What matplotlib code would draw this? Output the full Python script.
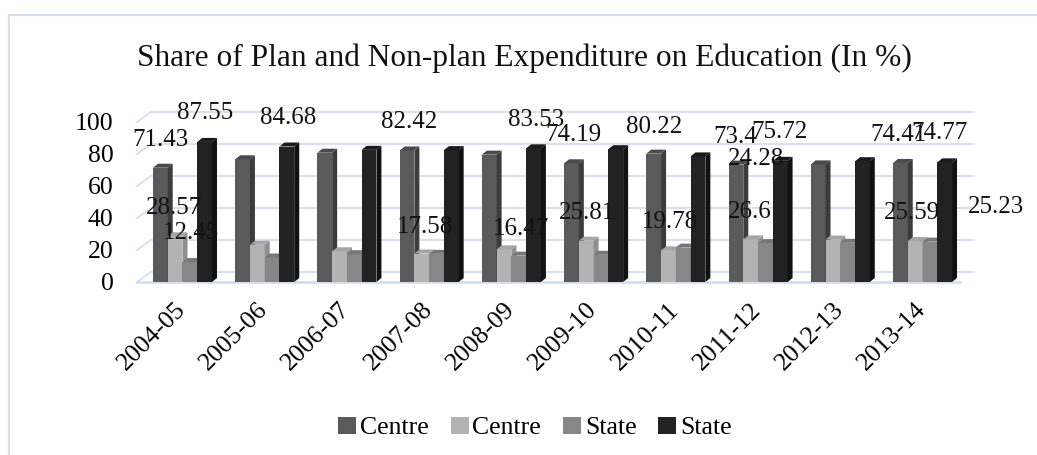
import numpy as np
import matplotlib.pyplot as plt
from matplotlib.collections import PolyCollection
from matplotlib.patches import Patch, Rectangle
from matplotlib.transforms import ScaledTranslation

plt.rcParams['font.family'] = ['Liberation Serif', 'DejaVu Serif']

years = ['2004-05', '2005-06', '2006-07', '2007-08', '2008-09',
         '2009-10', '2010-11', '2011-12', '2012-13', '2013-14']
series_names = ['Centre', 'Centre', 'State', 'State']
centre_a = [71.43, 76.7, 80.8, 82.2, 79.6, 74.19, 80.22, 73.4, 73.5, 74.41]
centre_b = [28.57, 23.3, 19.2, 17.8, 20.4, 25.81, 19.78, 26.6, 26.5, 25.59]
state_a = [12.45, 15.32, 17.4, 17.58, 16.47, 17.0, 21.5, 24.28, 24.5, 25.23]
state_b = [87.55, 84.68, 82.6, 82.42, 83.53, 83.0, 78.5, 75.72, 75.5, 74.77]

# the labels that Excel actually showed (scattered)
shown_labels = ['71.43', '87.55', '28.57', '12.45', '84.68', '82.42', '17.58',
                '16.47', '83.53', '74.19', '25.81', '80.22', '19.78', '73.4',
                '75.72', '24.28', '26.6', '74.41', '74.77', '25.59', '25.23']
# where they sit (category units, value units)
label_pos = [(-0.27, 88.8), (0.27, 105.6), (-0.10, 46.3), (0.10, 30.6),
             (1.28, 102.5), (2.76, 100.0), (2.95, 34.4), (4.12, 33.1),
             (4.30, 101.3), (4.76, 91.9), (4.92, 43.1), (5.73, 96.9),
             (5.93, 37.5), (6.72, 90.6), (7.26, 93.8), (6.97, 76.9),
             (6.90, 43.8), (8.71, 91.9), (9.21, 93.1), (8.87, 43.1),
             (9.89, 46.9)]

front_cols = ['#5a5a5a', '#b3b3b3', '#878787', '#222222']
side_cols = ['#3c3c3c', '#8f8f8f', '#666666', '#111111']
top_cols = ['#4a4a4a', '#a5a5a5', '#777777', '#1a1a1a']
grid_col = '#d3dff0'

W, H = 1037, 455
fig = plt.figure(figsize=(W / 100, H / 100), dpi=100)
fig.patch.set_facecolor('white')

# outer chart border (cropped on the right and bottom)
fig.add_artist(Rectangle((9 / W, -0.05), 1.2, 1 - 15 / H + 0.05,
                         transform=fig.transFigure, fill=False,
                         edgecolor='#d6e1ef', lw=1.5))

ax_l, ax_r, ax_b, ax_t = 137, 960, 282, 122
ax = fig.add_axes([ax_l / W, 1 - ax_b / H, (ax_r - ax_l) / W, (ax_b - ax_t) / H])
xmin, xmax = -0.553, 9.456
ax.set_xlim(xmin, xmax)
ax.set_ylim(0, 100)
for sp in ax.spines.values():
    sp.set_visible(False)

px_x = (ax_r - ax_l) / (xmax - xmin)
px_y = (ax_b - ax_t) / 100.0

# back wall grid with a bit of perspective
gdx, gdy = 14 / px_x, 10 / px_y
for v in range(0, 101, 20):
    ax.plot([xmin, xmin + gdx, xmax + gdx], [v, v + gdy, v + gdy],
            color=grid_col, lw=1.3, clip_on=False, zorder=0)
ax.plot([xmin, xmax], [0, 0], color=grid_col, lw=2, clip_on=False, zorder=0)

# 3D-looking bars
x = np.arange(len(years))
bw = 0.1795
ddx, ddy = 5 / px_x, 4 / px_y
data = [centre_a, centre_b, state_a, state_b]
for s, vals in enumerate(data):
    xl = x + (s - 2) * bw
    xr = xl + bw
    z = 2 + s
    ax.bar(xl, vals, width=bw, align='edge', color=front_cols[s],
           lw=0, zorder=z, clip_on=False)
    sides = [[(r, 0), (r, h), (r + ddx, h + ddy), (r + ddx, ddy)]
             for r, h in zip(xr, vals)]
    tops = [[(l, h), (r, h), (r + ddx, h + ddy), (l + ddx, h + ddy)]
            for l, r, h in zip(xl, xr, vals)]
    ax.add_collection(PolyCollection(sides, facecolors=side_cols[s],
                                     edgecolors='none', zorder=z, clip_on=False))
    ax.add_collection(PolyCollection(tops, facecolors=top_cols[s],
                                     edgecolors='none', zorder=z, clip_on=False))

for txt, (lx, ly) in zip(shown_labels, label_pos):
    ax.text(lx, ly, txt, ha='center', va='center', fontsize=18,
            color='#111111', zorder=10, clip_on=False)

ax.set_yticks(range(0, 101, 20))
ax.set_yticklabels([str(v) for v in range(0, 101, 20)], fontsize=18.5)
ax.set_xticks(x)
ax.set_xticklabels(years, rotation=45, ha='right', va='top',
                   rotation_mode='anchor', fontsize=18.5)
ax.tick_params(axis='y', length=0, pad=17)
ax.tick_params(axis='x', length=0, pad=12)
shift = ScaledTranslation(-8 / 100, 0, fig.dpi_scale_trans)
for lab in ax.get_xticklabels():
    lab.set_transform(lab.get_transform() + shift)

fig.text(524 / W, 1 - 58 / H,
         'Share of Plan and Non-plan Expenditure on Education (In %)',
         ha='center', va='center', fontsize=22.6, color='#111111')

handles = [Patch(facecolor=c, edgecolor='none') for c in front_cols]
fig.legend(handles, series_names, loc='center', bbox_to_anchor=(535 / W, 1 - 428 / H),
           ncol=4, frameon=False, fontsize=18.5, handlelength=0.7, handleheight=0.7,
           handletextpad=0.15, columnspacing=0.85)

fig.savefig('out.png', dpi=100)
